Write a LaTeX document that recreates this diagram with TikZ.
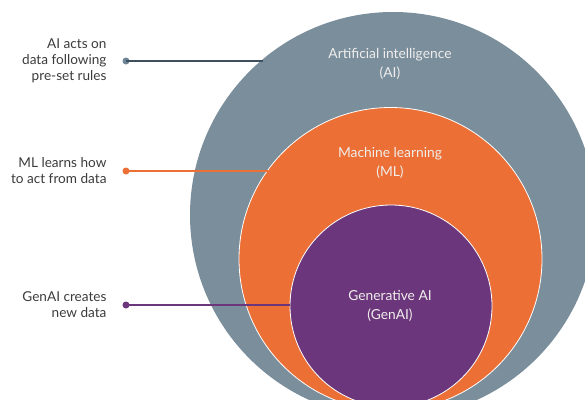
\documentclass[tikz,border=0pt]{standalone}
\usepackage{fontspec}
\setmainfont{Lato}
\definecolor{aigray}{HTML}{7A8E9C}
\definecolor{mlorange}{HTML}{EC6F35}
\definecolor{genpurple}{HTML}{6B367B}
\definecolor{aidot}{HTML}{6E8497}
\definecolor{ailine}{HTML}{3E4F60}
\definecolor{txt}{HTML}{3C3C3C}
\definecolor{lbl}{HTML}{F0EEEC}
\begin{document}
\begin{tikzpicture}[x=1pt,y=-1pt,
  ring/.style={circle,inner sep=0pt,outer sep=0pt},
  dotnode/.style={circle,inner sep=0pt,minimum size=7pt},
  sidetext/.style={anchor=east,align=right,text=txt,font=\fontsize{13.6}{16}\selectfont},
  ringtext/.style={align=center,text=lbl,font=\fontsize{13.8}{19}\selectfont},
  conn/.style={line width=1.1pt}]
\useasboundingbox (0,0) rectangle (585,399);
\clip (0,0) rectangle (585,399);
\fill[white] (0,0) rectangle (585,399);
% circles
\node[ring,fill=aigray,minimum size=406pt] (ai) at (393,215) {};
\node[ring,fill=mlorange,draw=white,line width=0.8pt,minimum size=303pt] (ml) at (390.5,259) {};
\node[ring,fill=genpurple,draw=white,line width=0.8pt,minimum size=202pt] (gen) at (391,306) {};
% circle labels
\node[ringtext] (ailbl) at (390,63.5) {Artificial intelligence\\(AI)};
\node[ringtext] (mllbl) at (390,162.5) {Machine learning\\(ML)};
\node[ringtext] (genlbl) at (390,305.5) {Generative AI\\(GenAI)};
% side texts
\node[sidetext] (aitxt) at (110,61) {AI acts on\\data following\\pre-set rules};
\node[sidetext] (mltxt) at (110,171) {ML learns how\\to act from data};
\node[sidetext] (gentxt) at (110,305) {GenAI creates\\new data};
% dots
\node[dotnode,fill=aidot] (aidotn) at (126,61) {};
\node[dotnode,fill=mlorange] (mldotn) at (126,171) {};
\node[dotnode,fill=genpurple] (gendotn) at (126,305) {};
% connectors
\draw[conn,draw=ailine] (aidotn.center) -- (aidotn.center -| ai.130.7);
\draw[conn,draw=mlorange] (mldotn.center) -- (mldotn.center -| ml.144.5);
\draw[conn,draw=genpurple] (gendotn.center) -- (gendotn.center -| gen.179.4);
\end{tikzpicture}
\end{document}
